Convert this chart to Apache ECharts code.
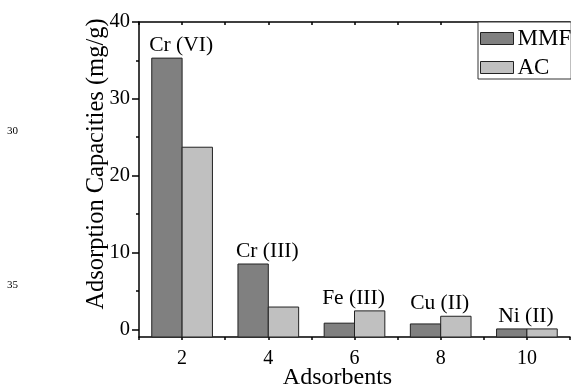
<!DOCTYPE html>
<html>
<head>
<meta charset="utf-8">
<script src="https://cdn.jsdelivr.net/npm/echarts@6/dist/echarts.min.js"></script>
<style>
html,body{margin:0;padding:0;background:#fff;}
#chart{width:571px;height:385px;}
</style>
</head>
<body>
<div id="chart"></div>
<script>
const categories = ['2', '4', '6', '8', '10'];
const ions = ['Cr (VI)', 'Cr (III)', 'Fe (III)', 'Cu (II)', 'Ni (II)'];
const mmf = [35.3, 8.5, 0.8, 0.7, 0.05];
const ac = [23.7, 2.9, 2.4, 1.7, 0.05];
const yTicks = [0, 10, 20, 30, 40];
const yMinorTicks = [5, 15, 25, 35];
const yMin = -1;
const yMax = 40;
const seriesNames = ['MMF', 'AC'];
const yTitle = 'Adsorption Capacities (mg/g)';
const xTitle = 'Adsorbents';
const lineNumbers = ['30', '35'];

const FONT = "'Liberation Serif', 'Times New Roman', serif";
const colors = ['#808080', '#c0c0c0'];
const edge = '#222';

function barSeries(name, values, side, color) {
  return {
    type: 'custom',
    name: name,
    xAxisIndex: 0,
    yAxisIndex: 0,
    clip: false,
    itemStyle: { color: color, borderColor: edge, borderWidth: 1 },
    data: values.map((v, i) => [i, v]),
    encode: { x: 0, y: 1 },
    renderItem: function (params, api) {
      const i = api.value(0);
      const v = api.value(1);
      const top = api.coord([i, v]);
      const base = api.coord([i, yMin]);
      const band = api.size([1, 0])[0];
      const w = band * 0.352;
      const x = side < 0 ? top[0] - w : top[0];
      return {
        type: 'rect',
        shape: { x: x, y: top[1], width: w, height: base[1] - top[1] },
        style: { fill: color, stroke: edge, lineWidth: 1 }
      };
    }
  };
}

const chart = echarts.init(document.getElementById('chart'), null, { renderer: 'canvas' });

const option = {
  animation: false,
  backgroundColor: '#fff',
  grid: { left: 139, top: 22, right: 1, bottom: 48, containLabel: false },
  legend: {
    orient: 'vertical',
    left: 478,
    top: 22,
    selectedMode: false,
    icon: 'rect',
    itemWidth: 33,
    itemHeight: 12,
    itemGap: 6,
    padding: [5, 0, 0, 2],
    borderColor: '#333',
    borderWidth: 1,
    backgroundColor: '#fff',
    textStyle: { fontFamily: FONT, fontSize: 23, color: '#000', lineHeight: 22, padding: [0, 0, 0, -1] },
    data: [
      { name: seriesNames[0], itemStyle: { color: colors[0], borderColor: edge, borderWidth: 1 } },
      { name: seriesNames[1], itemStyle: { color: colors[1], borderColor: edge, borderWidth: 1 } }
    ]
  },
  xAxis: [
    {
      type: 'category',
      data: categories,
      position: 'bottom',
      boundaryGap: true,
      axisLine: { onZero: false, lineStyle: { color: '#000', width: 1.5 } },
      axisTick: { alignWithLabel: true, length: 6, lineStyle: { color: '#000', width: 1.5 } },
      axisLabel: { fontFamily: FONT, fontSize: 20, color: '#000', margin: 12 },
      splitLine: { show: false }
    },
    {
      type: 'value',
      position: 'bottom',
      min: 1, max: 11, interval: 1,
      axisLine: { show: false, onZero: false },
      axisTick: { show: true, length: 3, lineStyle: { color: '#000', width: 1.5 } },
      axisLabel: { show: false },
      splitLine: { show: false }
    },
    {
      type: 'value',
      position: 'top',
      min: 1, max: 11, interval: 1,
      axisLine: { show: true, onZero: false, lineStyle: { color: '#000', width: 1.5 } },
      axisTick: { show: true, inside: true, length: 3, lineStyle: { color: '#000', width: 1.5 } },
      axisLabel: { show: false },
      splitLine: { show: false }
    }
  ],
  yAxis: [
    {
      type: 'value',
      position: 'left',
      min: yMin, max: yMax,
      axisLine: { show: true, onZero: false, lineStyle: { color: '#000', width: 1.5 } },
      axisTick: { show: true, length: 7, customValues: yTicks, lineStyle: { color: '#000', width: 1.5 } },
      axisLabel: { fontFamily: FONT, fontSize: 20.5, color: '#000', margin: 9, customValues: yTicks },
      splitLine: { show: false }
    },
    {
      type: 'value',
      position: 'left',
      min: yMin, max: yMax,
      axisLine: { show: false, onZero: false },
      axisTick: { show: true, length: 3, customValues: yMinorTicks, lineStyle: { color: '#000', width: 1.5 } },
      axisLabel: { show: false },
      splitLine: { show: false }
    }
  ],
  series: [
    barSeries(seriesNames[0], mmf, -1, colors[0]),
    barSeries(seriesNames[1], ac, 1, colors[1]),
    {
      type: 'custom',
      name: 'ions',
      xAxisIndex: 0,
      yAxisIndex: 0,
      clip: false,
      data: ions.map((t, i) => [i, Math.max(mmf[i], ac[i])]),
      encode: { x: 0, y: 1 },
      renderItem: function (params, api) {
        const i = api.value(0);
        const p = api.coord([i, api.value(1)]);
        return {
          type: 'text',
          x: p[0] - 1,
          y: p[1] - 2,
          style: {
            text: ions[i],
            fontFamily: FONT,
            fontSize: 21.5,
            fill: '#000',
            textAlign: 'center',
            textVerticalAlign: 'bottom'
          }
        };
      }
    }
  ],
  graphic: [
    {
      type: 'text',
      x: 97, y: 164,
      rotation: Math.PI / 2,
      style: { text: yTitle, fontFamily: FONT, fontSize: 24.5, fill: '#000', textAlign: 'center', textVerticalAlign: 'middle' }
    },
    {
      type: 'text',
      x: 337.5, y: 378,
      style: { text: xTitle, fontFamily: FONT, fontSize: 24, fill: '#000', textAlign: 'center', textVerticalAlign: 'middle' }
    },
    {
      type: 'text',
      x: 12.5, y: 131.5,
      style: { text: lineNumbers[0], fontFamily: FONT, fontSize: 11, fill: '#000', textAlign: 'center', textVerticalAlign: 'middle' }
    },
    {
      type: 'text',
      x: 12.5, y: 285,
      style: { text: lineNumbers[1], fontFamily: FONT, fontSize: 11, fill: '#000', textAlign: 'center', textVerticalAlign: 'middle' }
    }
  ]
};

chart.setOption(option);
</script>
</body>
</html>
